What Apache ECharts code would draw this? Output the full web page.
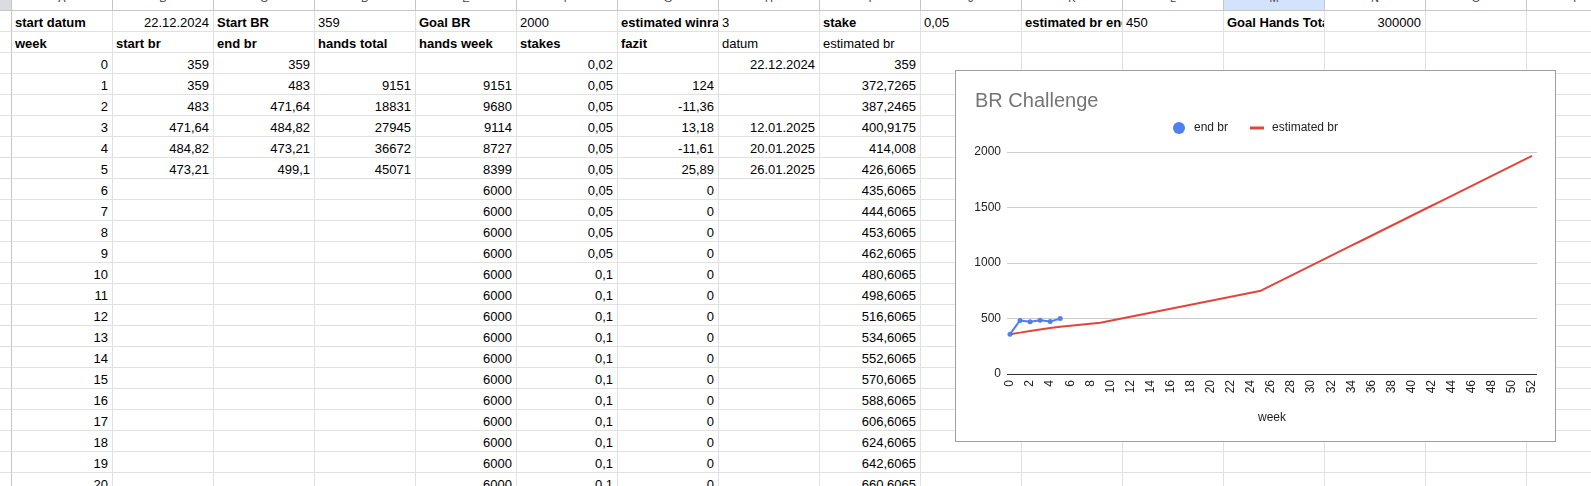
<!DOCTYPE html>
<html>
<head>
<meta charset="utf-8">
<script src="https://cdn.jsdelivr.net/npm/echarts@6/dist/echarts.min.js"></script>
<style>
  html, body { margin:0; padding:0; background:#fff; width:1591px; height:486px; overflow:hidden; }
  body { position:relative; font-family:"Liberation Sans", Arial, sans-serif; }
  .cell { position:absolute; box-sizing:border-box; border-right:1px solid #e1e1e1; border-bottom:1px solid #e1e1e1;
          overflow:hidden; white-space:nowrap; font-size:13px; color:#000; padding:2px 4px 0 3px; line-height:19px; }
  .r { text-align:right; }
  .b { font-weight:bold; }
  .hdr { position:absolute; box-sizing:border-box; border-right:1px solid #c4c7c5; border-bottom:1px solid #c4c7c5;
         overflow:hidden; background:#fff; }
  .hdr span { position:absolute; left:0; right:0; top:-8px; text-align:center; font-size:11px; line-height:12px; color:#444; }
  .rowhdr { position:absolute; box-sizing:border-box; left:0; width:12px; border-right:1px solid #c4c7c5; border-bottom:1px solid #e1e1e1; background:#fff; }
  #frame { position:absolute; left:955px; top:70px; width:601px; height:372px; box-sizing:border-box; border:1px solid #9e9e9e; background:#fff; z-index:5; }
  #chart { width:599px; height:370px; }
</style>
</head>
<body>
<div id="sheet"></div>
<div id="frame"><div id="chart"></div></div>
<script>
// ---------- sheet data ----------
const colLetters = ['A','B','C','D','E','F','G','H','I','J','K','L','M','N','O','P'];
const row1Texts = ['start datum','22.12.2024','Start BR','359','Goal BR','2000','estimated winrate','3','stake','0,05','estimated br end','450','Goal Hands Total','300000','',''];
const row1Bold  = [1,0,1,0,1,0,1,0,1,0,1,0,1,0,0,0];
const row1Right = [0,1,0,0,0,0,0,0,0,0,0,0,0,1,0,0];
const row2Texts = ['week','start br','end br','hands total','hands week','stakes','fazit','datum','estimated br','','','','','','',''];
const row2Bold  = [1,1,1,1,1,1,1,0,0,0,0,0,0,0,0,0];

const tableWeeks = [0,1,2,3,4,5,6,7,8,9,10,11,12,13,14,15,16,17,18,19,20];
const startBr    = [359,359,483,471.64,484.82,473.21];
const endBr      = [359,483,471.64,484.82,473.21,499.1];
const handsTotal = [null,9151,18831,27945,36672,45071];
const handsWeek  = [null,9151,9680,9114,8727,8399,6000,6000,6000,6000,6000,6000,6000,6000,6000,6000,6000,6000,6000,6000,6000];
const stakes     = [0.02,0.05,0.05,0.05,0.05,0.05,0.05,0.05,0.05,0.05,0.1,0.1,0.1,0.1,0.1,0.1,0.1,0.1,0.1,0.1,0.1];
const fazit      = [null,124,-11.36,13.18,-11.61,25.89,0,0,0,0,0,0,0,0,0,0,0,0,0,0,0];
const datum      = ['22.12.2024','','','12.01.2025','20.01.2025','26.01.2025'];

// ---------- chart data ----------
const chartWeeks  = [0,1,2,3,4,5,6,7,8,9,10,11,12,13,14,15,16,17,18,19,20,21,22,23,24,25,26,27,28,29,30,31,32,33,34,35,36,37,38,39,40,41,42,43,44,45,46,47,48,49,50,51,52];
const estimatedBr = [359,372.7265,387.2465,400.9175,414.008,426.6065,435.6065,444.6065,453.6065,462.6065,
  480.6065,498.6065,516.6065,534.6065,552.6065,570.6065,588.6065,606.6065,624.6065,642.6065,660.6065,
  678.6065,696.6065,714.6065,732.6065,750.6065,
  795.6065,840.6065,885.6065,930.6065,975.6065,1020.6065,1065.6065,1110.6065,1155.6065,1200.6065,
  1245.6065,1290.6065,1335.6065,1380.6065,1425.6065,1470.6065,1515.6065,1560.6065,1605.6065,1650.6065,
  1695.6065,1740.6065,1785.6065,1830.6065,1875.6065,1920.6065,1965.6065];
const xTickLabels = [0,2,4,6,8,10,12,14,16,18,20,22,24,26,28,30,32,34,36,38,40,42,44,46,48,50,52];
const yTicks = [0,500,1000,1500,2000];

// ---------- build sheet ----------
const sheet = document.getElementById('sheet');
const COL0 = 12, COLW = 101, HDRH = 11, ROWH = 21;
function fmt(v){
  if(v===null||v===undefined||v==='') return '';
  if(typeof v === 'number') return String(v).replace('.', ',');
  return v;
}
function addCell(ci, ri, text, bold, right){
  const d = document.createElement('div');
  d.className = 'cell' + (bold?' b':'') + (right?' r':'');
  d.style.left = (COL0 + COLW*ci) + 'px';
  d.style.top = (HDRH + ROWH*ri) + 'px';
  d.style.width = COLW + 'px';
  d.style.height = ROWH + 'px';
  d.textContent = text;
  sheet.appendChild(d);
}
const corner = document.createElement('div');
corner.className='hdr'; corner.style.left='0px'; corner.style.top='0px'; corner.style.width='12px'; corner.style.height=HDRH+'px';
corner.style.background='#dadce0';
sheet.appendChild(corner);
colLetters.forEach((L,i)=>{
  const h = document.createElement('div');
  h.className='hdr';
  h.style.left=(COL0+COLW*i)+'px'; h.style.top='0px'; h.style.width=COLW+'px'; h.style.height=HDRH+'px';
  if(L==='M') h.style.background='#d3e3fd';
  const s=document.createElement('span'); s.textContent=L; h.appendChild(s);
  sheet.appendChild(h);
});
const nRows = 2 + tableWeeks.length;
for(let r=0;r<nRows;r++){
  const rh=document.createElement('div'); rh.className='rowhdr';
  rh.style.top=(HDRH+ROWH*r)+'px'; rh.style.height=ROWH+'px'; sheet.appendChild(rh);
}
row1Texts.forEach((t,i)=>addCell(i,0,t,row1Bold[i],row1Right[i]));
row2Texts.forEach((t,i)=>addCell(i,1,t,row2Bold[i],false));
tableWeeks.forEach((w,k)=>{
  const ri = k+2;
  const vals = [w, startBr[k], endBr[k], handsTotal[k], handsWeek[k], stakes[k], fazit[k], datum[k], estimatedBr[k], '', '', '', '', '', '', ''];
  vals.forEach((v,ci)=>addCell(ci,ri,fmt(v),false,true));
});

// ---------- chart ----------
const chart = echarts.init(document.getElementById('chart'), null, {renderer:'canvas'});
const FONT = '"Liberation Sans", Arial, sans-serif';
const BLUE = '#4f7ff0', RED = '#e2453a';
chart.setOption({
  animation:false,
  textStyle:{fontFamily:FONT},
  title:{ text:'BR Challenge', left:19, top:20, padding:0,
          textStyle:{fontSize:20, fontWeight:'normal', color:'#757575', fontFamily:FONT} },
  legend:[
    { left:217, top:51, padding:0, itemWidth:14, itemHeight:12,
      textStyle:{fontSize:12, color:'#222', fontFamily:FONT, padding:[0,0,0,3]},
      data:[{name:'end br', icon:'circle', itemStyle:{color:BLUE}}] },
    { left:294, top:51, padding:0, itemWidth:14, itemHeight:3,
      textStyle:{fontSize:12, color:'#222', fontFamily:FONT, padding:[0,0,0,3]},
      data:[{name:'estimated br', icon:'rect', itemStyle:{color:RED}}] }
  ],
  grid:{ left:51, top:81, width:530, height:222, containLabel:false },
  xAxis:{ type:'value', min:-0.3, max:52.5, name:'week', nameLocation:'middle', nameGap:38,
          nameTextStyle:{fontSize:12, color:'#222', fontFamily:FONT},
          axisLine:{show:false}, axisTick:{show:false}, splitLine:{show:false},
          axisLabel:{ customValues:xTickLabels, rotate:90, margin:6, fontSize:12, color:'#222', fontFamily:FONT } },
  yAxis:{ type:'value', min:0, max:2000, interval:500,
          axisLine:{show:false}, axisTick:{show:false},
          splitLine:{ lineStyle:{color:'#cccccc', width:1} },
          axisLabel:{ margin:6, fontSize:12, color:'#222', fontFamily:FONT, formatter:(v)=>String(v) } },
  series:[
    { name:'end br', type:'line', data:endBr.map((v,i)=>[chartWeeks[i], v]),
      color:BLUE, lineStyle:{width:2, color:BLUE}, symbol:'circle', symbolSize:5,
      itemStyle:{color:BLUE}, z:4 },
    { name:'estimated br', type:'line', data:estimatedBr.map((v,i)=>[chartWeeks[i], v]),
      color:RED, lineStyle:{width:2, color:RED}, showSymbol:false, symbol:'none',
      itemStyle:{color:RED}, z:3,
      markLine:{ silent:true, symbol:'none', label:{show:false},
                 lineStyle:{color:'#333', width:1, type:'solid'}, data:[{yAxis:yTicks[0]}] } }
  ]
});
</script>
</body>
</html>
